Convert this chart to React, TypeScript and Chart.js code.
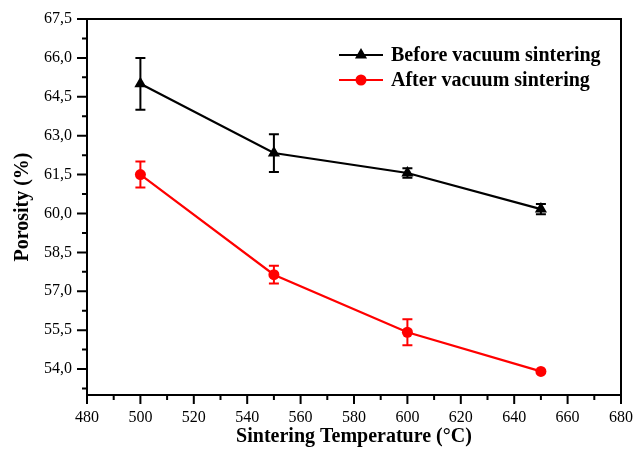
import React, { useEffect, useRef } from "react";
import { Chart, registerables } from "chart.js";

Chart.register(...registerables);

// ---- data ----
const temperatures = [500, 550, 600, 650];
const beforeLabel = "Before vacuum sintering";
const beforeValues = [65.0, 62.33, 61.56, 60.17];
const beforeErrors = [1.0, 0.73, 0.18, 0.2];
const afterLabel = "After vacuum sintering";
const afterValues = [61.5, 57.64, 55.42, 53.91];
const afterErrors = [0.5, 0.34, 0.5, 0.0];

const xMajorTicks = [480, 500, 520, 540, 560, 580, 600, 620, 640, 660, 680];
const xMinorTicks = [490, 510, 530, 550, 570, 590, 610, 630, 650, 670];
const yMajorTicks = [54.0, 55.5, 57.0, 58.5, 60.0, 61.5, 63.0, 64.5, 66.0, 67.5];
const yMinorTicks = [53.25, 54.75, 56.25, 57.75, 59.25, 60.75, 62.25, 63.75, 65.25, 66.75];

const xTitle = "Sintering Temperature (°C)";
const yTitle = "Porosity (%)";

const errorsByDataset = [beforeErrors, afterErrors];

const SERIF = "'Liberation Serif', 'Times New Roman', serif";

const framePlugin = {
  id: "frameAndExtras",
  afterDatasetsDraw(chart: any) {
    const ctx = chart.ctx;
    const xs = chart.scales.x;
    const ys = chart.scales.y;
    // error bars
    chart.data.datasets.forEach((ds: any, i: number) => {
      const errs = errorsByDataset[i];
      ctx.save();
      ctx.strokeStyle = ds.borderColor;
      ctx.lineWidth = 2;
      ds.data.forEach((p: any, j: number) => {
        const e = errs[j];
        if (!e) return;
        const x = xs.getPixelForValue(p.x);
        const yt = ys.getPixelForValue(p.y + e);
        const yb = ys.getPixelForValue(p.y - e);
        ctx.beginPath();
        ctx.moveTo(x, yt);
        ctx.lineTo(x, yb);
        ctx.moveTo(x - 5, yt);
        ctx.lineTo(x + 5, yt);
        ctx.moveTo(x - 5, yb);
        ctx.lineTo(x + 5, yb);
        ctx.stroke();
      });
      ctx.restore();
    });
  },
  afterDraw(chart: any) {
    const ctx = chart.ctx;
    const { left, right, top, bottom } = chart.chartArea;
    const xs = chart.scales.x;
    const ys = chart.scales.y;
    ctx.save();
    ctx.strokeStyle = "#000";
    ctx.lineWidth = 2;
    ctx.strokeRect(left, top, right - left, bottom - top);
    ctx.beginPath();
    xs.ticks.forEach((t: any) => {
      const x = xs.getPixelForValue(t.value);
      const len = xMajorTicks.includes(t.value) ? 9 : 5;
      ctx.moveTo(x, bottom);
      ctx.lineTo(x, bottom + len);
    });
    ys.ticks.forEach((t: any) => {
      const y = ys.getPixelForValue(t.value);
      const len = yMajorTicks.includes(t.value) ? 10 : 5;
      ctx.moveTo(left, y);
      ctx.lineTo(left - len, y);
    });
    ctx.stroke();

    // legend
    const lx0 = right - 282;
    const lx1 = right - 238;
    const textX = right - 230;
    const rows = [top + 36, top + 61];
    chart.data.datasets.forEach((ds: any, i: number) => {
      const y = rows[i];
      ctx.strokeStyle = ds.borderColor;
      ctx.fillStyle = ds.backgroundColor;
      ctx.lineWidth = 2;
      ctx.beginPath();
      ctx.moveTo(lx0, y);
      ctx.lineTo(lx1, y);
      ctx.stroke();
      const cx = (lx0 + lx1) / 2;
      ctx.beginPath();
      if (ds.pointStyle === "triangle") {
        const r = 7;
        ctx.moveTo(cx, y - r);
        ctx.lineTo(cx + r * Math.sin(Math.PI / 3), y + r / 2);
        ctx.lineTo(cx - r * Math.sin(Math.PI / 3), y + r / 2);
        ctx.closePath();
      } else {
        ctx.arc(cx, y, 5.5, 0, Math.PI * 2);
      }
      ctx.fill();
      ctx.fillStyle = "#000";
      ctx.font = `bold 20px ${SERIF}`;
      ctx.textBaseline = "middle";
      ctx.textAlign = "left";
      ctx.fillText(ds.label, textX, y + 1);
    });
    ctx.restore();
  },
};

export default function App() {
  const canvasRef = useRef<HTMLCanvasElement | null>(null);

  useEffect(() => {
    const canvas = canvasRef.current;
    if (!canvas) return;
    const chart = new Chart(canvas, {
      type: "line",
      data: {
        datasets: [
          {
            label: beforeLabel,
            data: temperatures.map((t, i) => ({ x: t, y: beforeValues[i] })),
            borderColor: "#000000",
            backgroundColor: "#000000",
            borderWidth: 2.2,
            pointStyle: "triangle",
            pointRadius: 7,
            pointBorderWidth: 0,
            tension: 0,
          },
          {
            label: afterLabel,
            data: temperatures.map((t, i) => ({ x: t, y: afterValues[i] })),
            borderColor: "#ff0000",
            backgroundColor: "#ff0000",
            borderWidth: 2.2,
            pointStyle: "circle",
            pointRadius: 5.5,
            pointBorderWidth: 0,
            tension: 0,
          },
        ],
      },
      options: {
        responsive: false,
        animation: false,
        events: [],
        layout: { padding: { top: 19, right: 23, left: 0, bottom: 0 } },
        plugins: {
          legend: { display: false },
          tooltip: { enabled: false },
        },
        scales: {
          x: {
            type: "linear",
            min: 480,
            max: 680,
            afterBuildTicks: (scale: any) => {
              scale.ticks = [...xMajorTicks, ...xMinorTicks]
                .sort((a, b) => a - b)
                .map((v) => ({ value: v }));
            },
            afterFit: (scale: any) => {
              scale.height = 68;
              scale.paddingLeft = 0;
              scale.paddingRight = 0;
            },
            grid: { display: false, drawTicks: false },
            border: { display: false },
            ticks: {
              color: "#000",
              font: { family: SERIF, size: 16 },
              padding: 13,
              maxRotation: 0,
              autoSkip: false,
              callback: (v: any) => (xMajorTicks.includes(v) ? String(v) : ""),
            },
            title: {
              display: true,
              text: xTitle,
              color: "#000",
              font: { family: SERIF, size: 20, weight: "bold" },
              padding: { top: 0, bottom: 14 },
            },
          },
          y: {
            type: "linear",
            min: 53,
            max: 67.5,
            afterBuildTicks: (scale: any) => {
              scale.ticks = [...yMajorTicks, ...yMinorTicks]
                .sort((a, b) => a - b)
                .map((v) => ({ value: v }));
            },
            afterFit: (scale: any) => {
              scale.width = 87;
              scale.paddingTop = 0;
              scale.paddingBottom = 0;
            },
            grid: { display: false, drawTicks: false },
            border: { display: false },
            ticks: {
              color: "#000",
              font: { family: SERIF, size: 16 },
              padding: 15,
              autoSkip: false,
              callback: (v: any) =>
                yMajorTicks.includes(v) ? v.toFixed(1).replace(".", ",") : "",
            },
            title: {
              display: true,
              text: yTitle,
              color: "#000",
              font: { family: SERIF, size: 20, weight: "bold" },
              padding: { top: 11, bottom: 0 },
            },
          },
        },
      },
      plugins: [framePlugin],
    } as any);
    return () => chart.destroy();
  }, []);

  return (
    <div style={{ position: "absolute", left: 0, top: 0, width: 644, height: 463, background: "#fff" }}>
      <canvas ref={canvasRef} width={644} height={463} />
    </div>
  );
}
